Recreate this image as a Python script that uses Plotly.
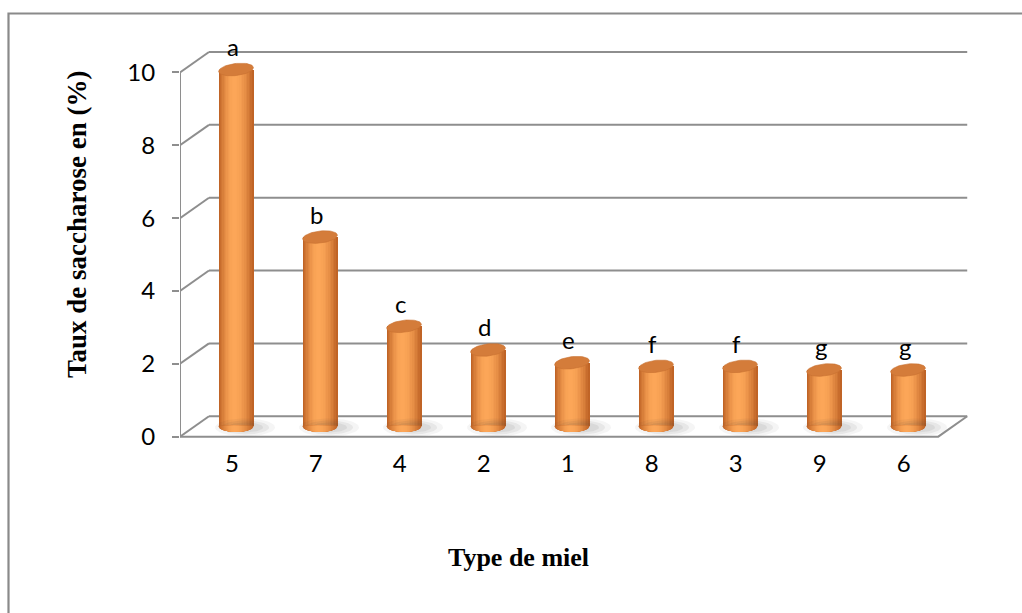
import numpy as np
import plotly.graph_objects as go

# Sucrose content per honey type (sorted), with significance groups
categories = ["5", "7", "4", "2", "1", "8", "3", "9", "6"]
saccharose = [9.8, 5.2, 2.75, 2.1, 1.75, 1.65, 1.65, 1.55, 1.55]
groupes = ["a", "b", "c", "d", "e", "f", "f", "g", "g"]
y_ticks = [0, 2, 4, 6, 8, 10]

# ---- canvas / plot-area geometry ----
W, H = 1022, 613
M_L, M_R, M_T = 180, 51, 36
X_LO, X_HI = -0.667, 8.75
Y_LO, Y_HI = -0.12, 11.0
PX_Y = 36.44
PW = W - M_L - M_R
PH = round((Y_HI - Y_LO) * PX_Y)
M_B = H - M_T - PH
PX_X = PW / (X_HI - X_LO)

# pseudo-3D depth of the chart box (in axis units)
DX, DY = 0.345, 0.56
X_FRONT_END = 8.36
BAR_W_PX = 35.0
TOP_B_PX, BOT_B_PX = 6.0, 5.5
TILT = np.deg2rad(7)

GRID = "#8E8E8E"
FONT = "Lato"
FS = 24

xs = np.arange(len(categories), dtype=float)
base = DY / 2


def px_to_paper_x(px):
    return (px - M_L) / PW


def px_to_paper_y(py):
    return (H - M_B - py) / PH


def ellipse(cx, cy, a_px, b_px, tilt=0.0, n=60):
    t = np.linspace(0, 2 * np.pi, n)
    ex, ey = a_px * np.cos(t), b_px * np.sin(t)
    dx = ex * np.cos(tilt) - ey * np.sin(tilt)
    dy = ex * np.sin(tilt) + ey * np.cos(tilt)
    return list(cx + dx / PX_X), list(cy + dy / PX_Y)


fig = go.Figure()

# ---- soft floor shadows ----
for sa, sb, alpha in [(30, 9, 0.05), (24, 7, 0.07), (18, 5, 0.08)]:
    sx, sy = [], []
    for x in xs:
        ex, ey = ellipse(x + 9 / PX_X, base - 1 / PX_Y, sa, sb)
        sx += ex + [None]
        sy += ey + [None]
    fig.add_trace(go.Scatter(x=sx, y=sy, mode="lines", fill="toself",
                             fillcolor=f"rgba(60,60,60,{alpha})",
                             line=dict(width=0), hoverinfo="skip", showlegend=False))

# ---- cylinder bodies: overlaid bars of decreasing width for shading ----
dark = np.array([192, 100, 38])
light = np.array([252, 166, 88])
N_LAYERS = 12
HL = 0.45  # relative position of the highlight across the cylinder
half_w = BAR_W_PX / 2 / PX_X
layers = []
for k in range(N_LAYERS):
    f = 1 - k / N_LAYERS
    lo = HL - HL * f
    hi = HL + (1 - HL) * f
    s = np.sin(0.5 * np.pi * k / (N_LAYERS - 1))
    col = dark + (light - dark) * s
    layers.append((lo, hi, "rgb(%d,%d,%d)" % tuple(col.astype(int))))

for lo, hi, col in layers:
    x_left = -half_w + lo * 2 * half_w
    x_right = -half_w + hi * 2 * half_w
    fig.add_trace(go.Bar(x=xs + (x_left + x_right) / 2, y=saccharose, base=base,
                         width=x_right - x_left, marker=dict(color=col, line=dict(width=0)),
                         hoverinfo="skip", showlegend=False))

# rounded bottoms of the cylinders, same shading bands
for lo, hi, col in layers:
    cx_all, cy_all = [], []
    for x in xs:
        u = np.linspace(-1 + 2 * lo, -1 + 2 * hi, 30)
        yy = base - BOT_B_PX * np.sqrt(np.clip(1 - u ** 2, 0, 1)) / PX_Y
        px = list(x + u * half_w)
        cx_all += [px[0]] + px + [px[-1], None]
        cy_all += [base + 0.02] + list(yy) + [base + 0.02, None]
    fig.add_trace(go.Scatter(x=cx_all, y=cy_all, mode="lines", fill="toself",
                             fillcolor=col, line=dict(width=0),
                             hoverinfo="skip", showlegend=False))

# top caps
tx, ty = [], []
for x, v in zip(xs, saccharose):
    ex, ey = ellipse(x, v + base, BAR_W_PX / 2, TOP_B_PX, TILT)
    tx += ex + [None]
    ty += ey + [None]
fig.add_trace(go.Scatter(x=tx, y=ty, mode="lines", fill="toself",
                         fillcolor="rgb(212,124,58)", line=dict(width=0.6, color="rgb(200,112,48)"),
                         hoverinfo="skip", showlegend=False))

# ---- walls, floor and gridlines ----
shapes = []
line = dict(color=GRID, width=2)
for v in y_ticks:
    shapes.append(dict(type="line", xref="x", yref="y", x0=X_LO + DX, y0=v + DY,
                       x1=X_FRONT_END + DX, y1=v + DY, line=line, layer="below"))
    shapes.append(dict(type="line", xref="x", yref="y", x0=X_LO, y0=v,
                       x1=X_LO + DX, y1=v + DY, line=line, layer="below"))
shapes.append(dict(type="line", xref="x", yref="y", x0=X_LO, y0=y_ticks[0],
                   x1=X_LO, y1=y_ticks[-1], line=line, layer="below"))
shapes.append(dict(type="path", xref="x", yref="y", layer="below",
                   path=f"M {X_LO},0 L {X_FRONT_END},0 L {X_FRONT_END + DX},{DY}",
                   line=line))
# chart frame
shapes.append(dict(type="rect", xref="paper", yref="paper",
                   x0=px_to_paper_x(8.5), y0=px_to_paper_y(H + 10),
                   x1=px_to_paper_x(W + 10), y1=px_to_paper_y(13.5),
                   line=dict(color="#8A8A8A", width=2.2), layer="below"))

# ---- significance letters ----
annotations = []
for x, v, g in zip(xs, saccharose, groupes):
    annotations.append(dict(x=x - 0.04, y=v + base, xref="x", yref="y", text=g,
                            showarrow=False, xanchor="center", yanchor="middle", yshift=23,
                            font=dict(family=FONT, size=FS, color="black")))

# axis titles
annotations.append(dict(x=px_to_paper_x(77), y=px_to_paper_y(224), xref="paper", yref="paper",
                        xanchor="center", yanchor="middle",
                        text="<b>Taux de saccharose en (%)</b>", textangle=-90, showarrow=False,
                        font=dict(family="Liberation Serif", size=27, color="black")))
annotations.append(dict(x=px_to_paper_x(518), y=px_to_paper_y(557), xref="paper", yref="paper",
                        xanchor="center", yanchor="middle",
                        text="<b>Type de miel</b>", showarrow=False,
                        font=dict(family="Liberation Serif", size=26, color="black")))

fig.update_layout(
    width=W, height=H,
    margin=dict(l=M_L, r=M_R, t=M_T, b=M_B, pad=0),
    paper_bgcolor="white", plot_bgcolor="white",
    barmode="overlay", bargap=0,
    showlegend=False,
    shapes=shapes, annotations=annotations,
    xaxis=dict(range=[X_LO, X_HI], showgrid=False, zeroline=False, showline=False,
               tickmode="array", tickvals=list(xs - 0.05), ticktext=categories,
               ticks="", ticklabelstandoff=6,
               tickfont=dict(family=FONT, size=FS, color="black"), fixedrange=True),
    yaxis=dict(range=[Y_LO, Y_HI], showgrid=False, zeroline=False, showline=False,
               tickmode="array", tickvals=y_ticks, ticks="outside", ticklen=7,
               tickwidth=2, tickcolor=GRID, ticklabelstandoff=12,
               tickfont=dict(family=FONT, size=FS, color="black"), fixedrange=True),
)

fig.write_html("out.html")
